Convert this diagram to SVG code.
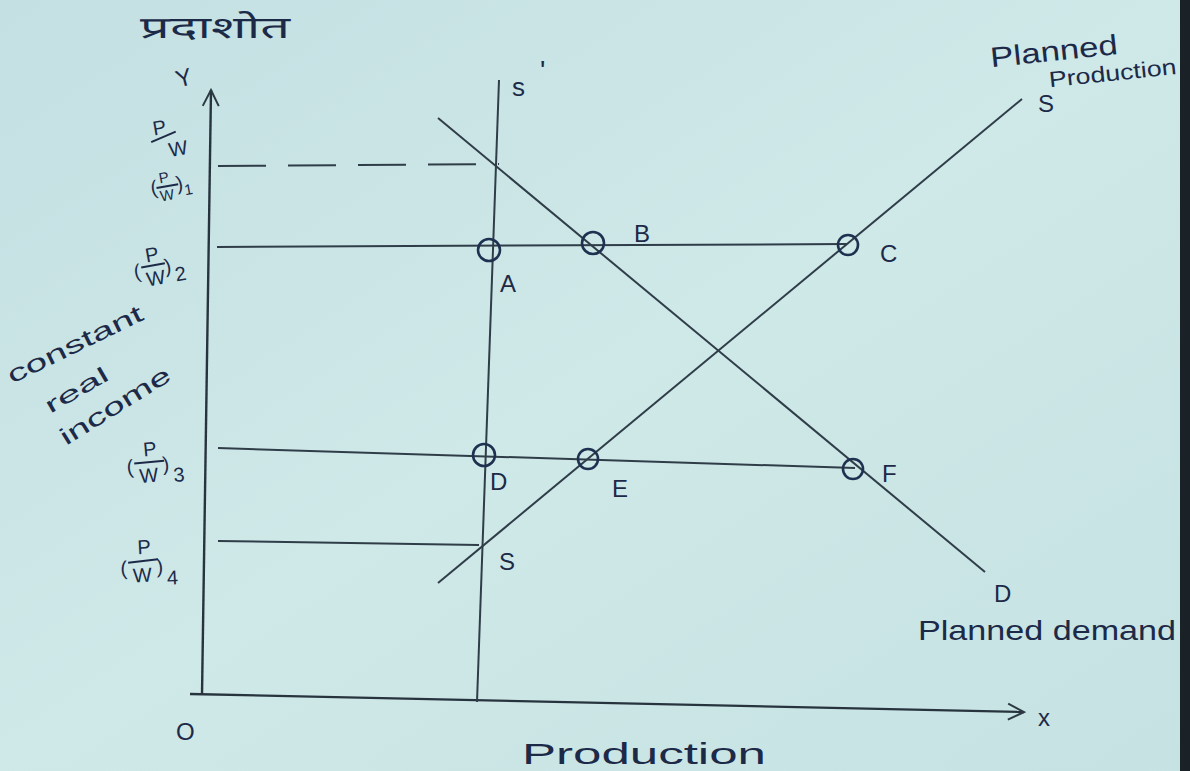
<svg xmlns="http://www.w3.org/2000/svg" width="1190" height="771" viewBox="0 0 1190 771">
<defs>
<linearGradient id="paper" x1="0" y1="0" x2="1" y2="1">
<stop offset="0" stop-color="#c4e0e2"/>
<stop offset="0.5" stop-color="#cfe8e8"/>
<stop offset="1" stop-color="#c6e2e2"/>
</linearGradient>
<marker id="arr" viewBox="0 0 20 20" refX="18" refY="10" markerWidth="20" markerHeight="20" markerUnits="userSpaceOnUse" orient="auto">
<path d="M2,2 L18,10 L2,18" fill="none" stroke="#2c3a44" stroke-width="2"/>
</marker>
<style>
.ln{stroke:#2f3d48;stroke-width:2;fill:none}
.ax{stroke:#27343e;stroke-width:2.4;fill:none}
.pt{stroke:#1f3150;stroke-width:2.6;fill:none}
.t{font-family:"Liberation Sans",Arial,sans-serif;fill:#1c2a48}
.lab{font-size:24px}
.sm{font-size:20px}
</style>
</defs>
<rect width="1190" height="771" fill="url(#paper)"/>
<rect x="1180" y="0" width="10" height="771" fill="#1a2228"/>

<text x="140" y="38" font-size="30" textLength="150" lengthAdjust="spacingAndGlyphs" font-family="'Noto Sans Devanagari','Noto Sans','Noto Sans CJK SC',sans-serif" fill="#1c2a48">प्रदाशोत</text>

<g id="axes">
<line class="ax" x1="202" y1="695" x2="211" y2="90" marker-end="url(#arr)"/>
<line class="ax" x1="190" y1="694" x2="1024" y2="712" marker-end="url(#arr)"/>
<text class="t lab" x="176" y="86" transform="rotate(-15 184 78)">Y</text>
<text class="t lab" x="1038" y="726">x</text>
<text class="t lab" x="176" y="740">O</text>
</g>

<g id="connectors">
<line class="ln" x1="499" y1="80" x2="477" y2="702"/>
<line class="ln" x1="218" y1="166" x2="499" y2="164" stroke-dasharray="48 22"/>
<line class="ln" x1="438" y1="118" x2="985" y2="572"/>
<line class="ln" x1="438" y1="583" x2="1022" y2="99"/>
<line class="ln" x1="217" y1="247" x2="847" y2="244"/>
<line class="ln" x1="218" y1="448" x2="855" y2="468"/>
<line class="ln" x1="218" y1="541" x2="479" y2="545"/>
</g>

<g id="node-S1"><text class="t" font-size="26" x="512" y="96">s</text><text class="t" font-size="28" x="540" y="80">'</text></g>
<g id="node-A"><circle class="pt" cx="489" cy="250" r="11"/><text class="t lab" x="500" y="292">A</text></g>
<g id="node-B"><circle class="pt" cx="593" cy="243" r="11"/><text class="t lab" x="634" y="242">B</text></g>
<g id="node-C"><circle class="pt" cx="848" cy="245" r="10"/><text class="t lab" x="880" y="262">C</text></g>
<g id="node-D"><circle class="pt" cx="484" cy="455" r="11"/><text class="t lab" x="490" y="490">D</text></g>
<g id="node-E"><circle class="pt" cx="588" cy="459" r="10"/><text class="t lab" x="612" y="497">E</text></g>
<g id="node-F"><circle class="pt" cx="853" cy="469" r="10"/><text class="t lab" x="882" y="482">F</text></g>
<g id="node-S"><text class="t lab" x="499" y="570">S</text></g>
<g id="node-Dend"><text class="t lab" x="994" y="602">D</text></g>
<g id="node-Send"><text class="t lab" x="1038" y="112">S</text></g>

<g id="labels-y">
<g transform="translate(163 140) rotate(-10)"><text class="t sm" x="-8" y="-6">P</text><line x1="-12" y1="0" x2="14" y2="-6" stroke="#1c2a48" stroke-width="2"/><text class="t sm" x="4" y="18">W</text></g>
<g transform="translate(168 184) rotate(-10)"><text class="t sm" x="-18" y="8">(</text><text class="t" font-size="15" x="-8" y="-2">P</text><line x1="-12" y1="2" x2="10" y2="2" stroke="#1c2a48" stroke-width="2"/><text class="t" font-size="15" x="-10" y="16">W</text><text class="t sm" x="8" y="8">)</text><text class="t" font-size="15" x="15" y="14">1</text></g>
<g transform="translate(155 265) rotate(-10)"><text class="t sm" x="-22" y="10">(</text><text class="t sm" x="-8" y="-4">P</text><line x1="-14" y1="0" x2="10" y2="0" stroke="#1c2a48" stroke-width="2"/><text class="t sm" x="-11" y="20">W</text><text class="t sm" x="9" y="10">)</text><text class="t sm" x="18" y="20">2</text></g>
<g transform="translate(150 460) rotate(-5)"><text class="t sm" x="-24" y="12">(</text><text class="t sm" x="-6" y="-4">P</text><line x1="-16" y1="2" x2="14" y2="2" stroke="#1c2a48" stroke-width="2"/><text class="t sm" x="-12" y="22">W</text><text class="t sm" x="12" y="12">)</text><text class="t sm" x="22" y="24">3</text></g>
<g transform="translate(144 560) rotate(-3)"><text class="t sm" x="-24" y="14">(</text><text class="t sm" x="-6" y="-6">P</text><line x1="-16" y1="2" x2="14" y2="0" stroke="#1c2a48" stroke-width="2"/><text class="t sm" x="-12" y="22">W</text><text class="t sm" x="12" y="14">)</text><text class="t sm" x="22" y="26">4</text></g>
</g>

<g id="label-income">
<text class="t" font-size="24" x="12" y="384" transform="rotate(-26 12 384)" textLength="148" lengthAdjust="spacingAndGlyphs">constant</text>
<text class="t" font-size="22" x="50" y="414" transform="rotate(-30 50 414)" textLength="70" lengthAdjust="spacingAndGlyphs">real</text>
<text class="t" font-size="24" x="66" y="446" transform="rotate(-32 66 446)" textLength="126" lengthAdjust="spacingAndGlyphs">income</text>
</g>

<g id="label-production-top" transform="rotate(-6 1080 50)">
<text class="t" font-size="28" x="990" y="58" textLength="128" lengthAdjust="spacingAndGlyphs">Planned</text>
<text class="t" font-size="22" x="1046" y="84" textLength="128" lengthAdjust="spacingAndGlyphs">Production</text>
</g>
<text class="t" font-size="28" x="918" y="640" textLength="258" lengthAdjust="spacingAndGlyphs">Planned demand</text>
<text class="t" font-size="30" x="522" y="764" textLength="244" lengthAdjust="spacingAndGlyphs">Production</text>
</svg>
